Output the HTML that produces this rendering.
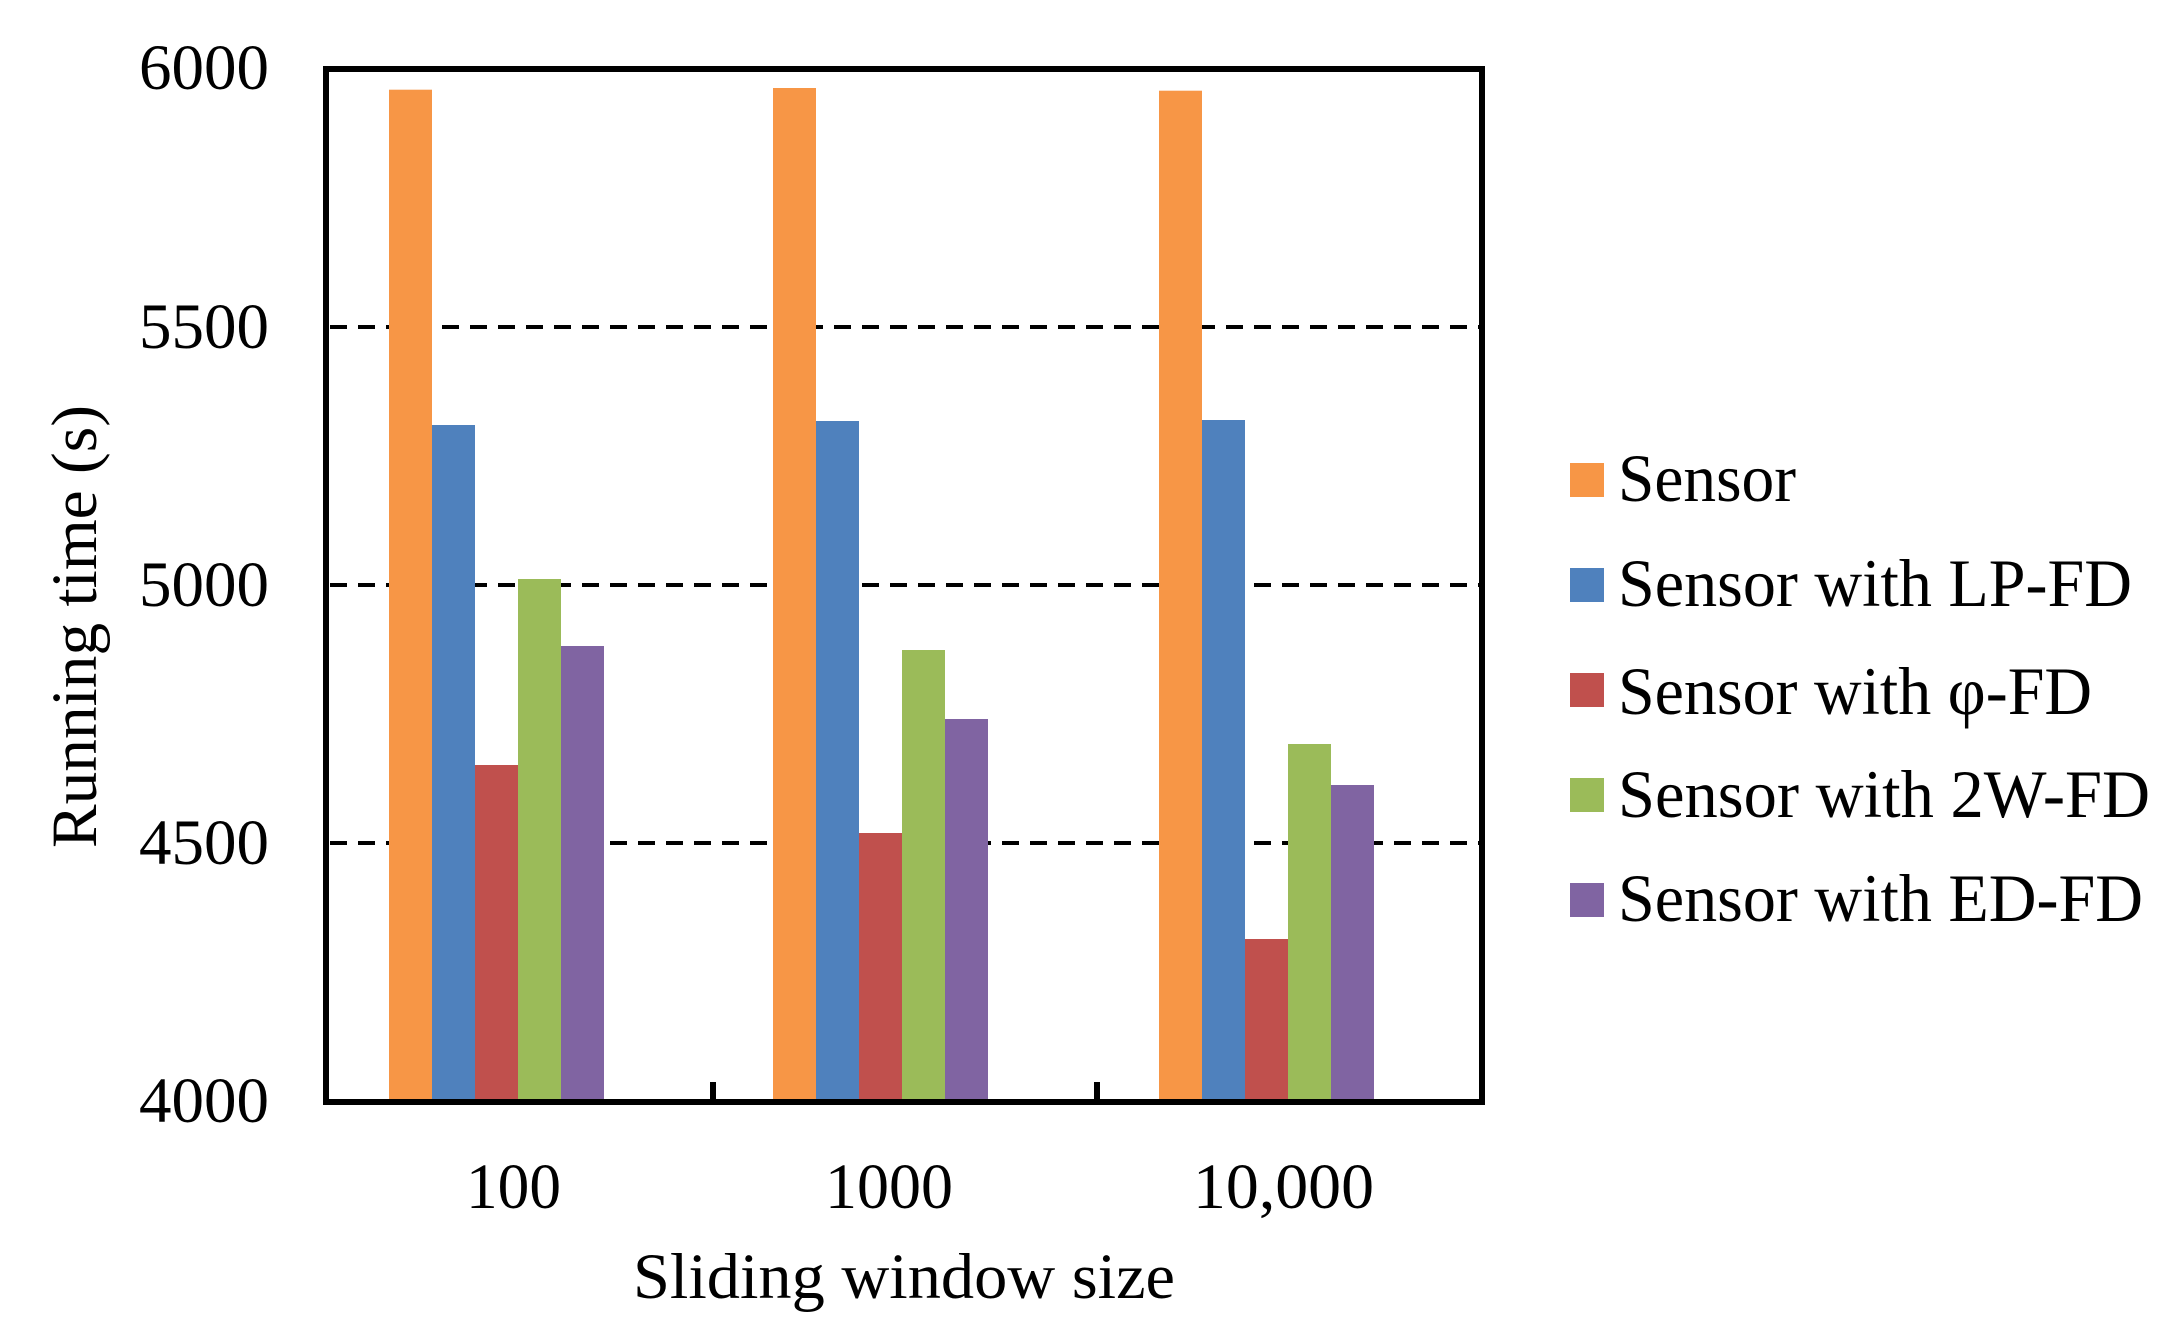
<!DOCTYPE html>
<html><head><meta charset="utf-8"><style>html,body{margin:0;padding:0;background:#fff}svg{display:block}</style></head>
<body>
<svg width="2177" height="1328" viewBox="0 0 2177 1328" xmlns="http://www.w3.org/2000/svg" font-family="Liberation Serif, serif" fill="#000">
<rect width="2177" height="1328" fill="#fff"/>
<g stroke="#000" stroke-width="4" stroke-dasharray="17 11">
<line x1="330" y1="327" x2="1482" y2="327"/>
<line x1="330" y1="585" x2="1482" y2="585"/>
<line x1="330" y1="843" x2="1482" y2="843"/>
</g>
<g>
<rect x="389" y="89.7" width="43" height="1010" fill="#F79646"/>
<rect x="432" y="425" width="43" height="675" fill="#4F81BD"/>
<rect x="475" y="765" width="43" height="335" fill="#C0504D"/>
<rect x="518" y="579" width="43" height="521" fill="#9BBB59"/>
<rect x="561" y="646" width="43" height="454" fill="#8064A2"/>

<rect x="773" y="88" width="43" height="1012" fill="#F79646"/>
<rect x="816" y="421" width="43" height="679" fill="#4F81BD"/>
<rect x="859" y="833" width="43" height="267" fill="#C0504D"/>
<rect x="902" y="650" width="43" height="450" fill="#9BBB59"/>
<rect x="945" y="719" width="43" height="381" fill="#8064A2"/>

<rect x="1159" y="90.7" width="43" height="1009" fill="#F79646"/>
<rect x="1202" y="420" width="43" height="680" fill="#4F81BD"/>
<rect x="1245" y="939" width="43" height="161" fill="#C0504D"/>
<rect x="1288" y="744" width="43" height="356" fill="#9BBB59"/>
<rect x="1331" y="785" width="43" height="315" fill="#8064A2"/>
</g>
<rect x="326" y="69" width="1156" height="1033" fill="none" stroke="#000" stroke-width="6"/>
<line x1="713" y1="1082" x2="713" y2="1102" stroke="#000" stroke-width="6"/>
<line x1="1097" y1="1082" x2="1097" y2="1102" stroke="#000" stroke-width="6"/>
<g font-size="65" text-anchor="end">
<text x="269" y="89" textLength="130" lengthAdjust="spacingAndGlyphs">6000</text>
<text x="269" y="348" textLength="130" lengthAdjust="spacingAndGlyphs">5500</text>
<text x="269" y="606" textLength="130" lengthAdjust="spacingAndGlyphs">5000</text>
<text x="269" y="864" textLength="130" lengthAdjust="spacingAndGlyphs">4500</text>
<text x="269" y="1122" textLength="130" lengthAdjust="spacingAndGlyphs">4000</text>
</g>
<g font-size="65">
<text x="466" y="1208" textLength="95" lengthAdjust="spacingAndGlyphs">100</text>
<text x="825" y="1208" textLength="128" lengthAdjust="spacingAndGlyphs">1000</text>
<text x="1193" y="1208" textLength="181" lengthAdjust="spacingAndGlyphs">10,000</text>
<text x="633" y="1298" textLength="542" lengthAdjust="spacingAndGlyphs">Sliding window size</text>
<text transform="translate(96,848) rotate(-90)" x="0" y="0" textLength="443" lengthAdjust="spacingAndGlyphs">Running time (s)</text>
</g>
<rect x="1570" y="463" width="34" height="34" fill="#F79646"/>
<rect x="1570" y="568" width="34" height="34" fill="#4F81BD"/>
<rect x="1570" y="673" width="34" height="34" fill="#C0504D"/>
<rect x="1570" y="778" width="34" height="34" fill="#9BBB59"/>
<rect x="1570" y="883" width="34" height="34" fill="#8064A2"/>
<g font-size="68">
<text x="1618" y="501" textLength="178" lengthAdjust="spacingAndGlyphs">Sensor</text>
<text x="1618" y="606" textLength="514" lengthAdjust="spacingAndGlyphs">Sensor with LP-FD</text>
<text x="1618" y="714" textLength="474" lengthAdjust="spacingAndGlyphs">Sensor with φ-FD</text>
<text x="1618" y="817" textLength="532" lengthAdjust="spacingAndGlyphs">Sensor with 2W-FD</text>
<text x="1618" y="921" textLength="525" lengthAdjust="spacingAndGlyphs">Sensor with ED-FD</text>
</g>
</svg>
</body></html>
